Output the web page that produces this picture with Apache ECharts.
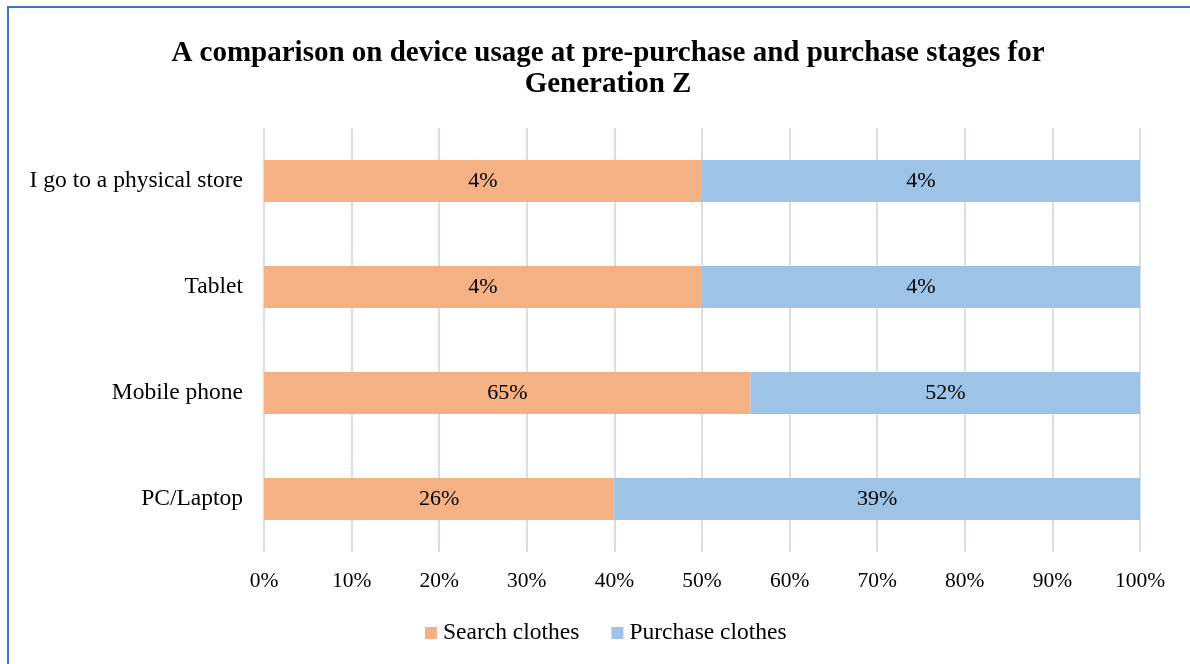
<!DOCTYPE html>
<html>
<head>
<meta charset="utf-8">
<script src="https://cdn.jsdelivr.net/npm/echarts@6/dist/echarts.min.js"></script>
<style>
  html, body { margin: 0; padding: 0; background: #fff; }
  #frame { position: absolute; left: 7px; top: 6px; width: 1300px; height: 800px;
           border-left: 2px solid #4472C4; border-top: 2px solid #4472C4; }
  #chart { position: absolute; left: 0; top: 0; width: 1190px; height: 664px; }
</style>
</head>
<body>
<div id="frame"></div>
<div id="chart"></div>
<script>
// Devices, bottom to top as drawn on the category axis
const categories = ['PC/Laptop', 'Mobile phone', 'Tablet', 'I go to a physical store'];
// Share of respondents (%) using each device at each stage
const searchClothes = [26, 65, 4, 4];
const purchaseClothes = [39, 52, 4, 4];
const seriesNames = ['Search clothes', 'Purchase clothes'];
const xTicks = [0, 10, 20, 30, 40, 50, 60, 70, 80, 90, 100];

// 100% stacking: each stage's portion of the row total
const totals = categories.map((_, i) => searchClothes[i] + purchaseClothes[i]);
const toShare = arr => arr.map((v, i) => ({ value: v / totals[i] * 100, raw: v }));

const font = 'Liberation Serif, Times New Roman, serif';
const chart = echarts.init(document.getElementById('chart'));

const labelOpt = {
  show: true,
  position: 'inside',
  color: '#000',
  fontFamily: font,
  fontSize: 22,
  formatter: p => p.data.raw + '%'
};

chart.setOption({
  animation: false,
  title: {
    text: 'A comparison on device usage at pre-purchase and purchase stages for\nGeneration Z',
    left: 603,
    textAlign: 'center',
    top: 33,
    textStyle: { fontFamily: font, fontSize: 29, fontWeight: 'bold', color: '#000', lineHeight: 31 }
  },
  legend: {
    top: 616,
    left: 420,
    itemWidth: 12,
    itemHeight: 12,
    itemGap: 32,
    icon: 'rect',
    textStyle: { fontFamily: font, fontSize: 23.5, color: '#000', padding: [0, 0, 0, 1] },
    data: seriesNames
  },
  grid: { left: 264, right: 50, top: 128, bottom: 112, containLabel: false },
  xAxis: {
    type: 'value',
    min: xTicks[0],
    max: xTicks[xTicks.length - 1],
    interval: 10,
    axisLine: { show: false },
    axisTick: { show: false },
    axisLabel: { formatter: '{value}%', fontFamily: font, fontSize: 21.5, color: '#000', margin: 18 },
    splitLine: { lineStyle: { color: '#D9DEE8', width: 2 } }
  },
  yAxis: {
    type: 'category',
    data: categories,
    axisLine: { show: false },
    axisTick: { show: false },
    axisLabel: { fontFamily: font, fontSize: 23.5, color: '#000', margin: 21 }
  },
  series: [
    {
      name: seriesNames[0],
      type: 'bar',
      stack: 'total',
      barWidth: 42,
      itemStyle: { color: '#F4B183' },
      label: labelOpt,
      data: toShare(searchClothes)
    },
    {
      name: seriesNames[1],
      type: 'bar',
      stack: 'total',
      barWidth: 42,
      itemStyle: { color: '#9DC3E6' },
      label: labelOpt,
      data: toShare(purchaseClothes)
    }
  ]
});
</script>
</body>
</html>
